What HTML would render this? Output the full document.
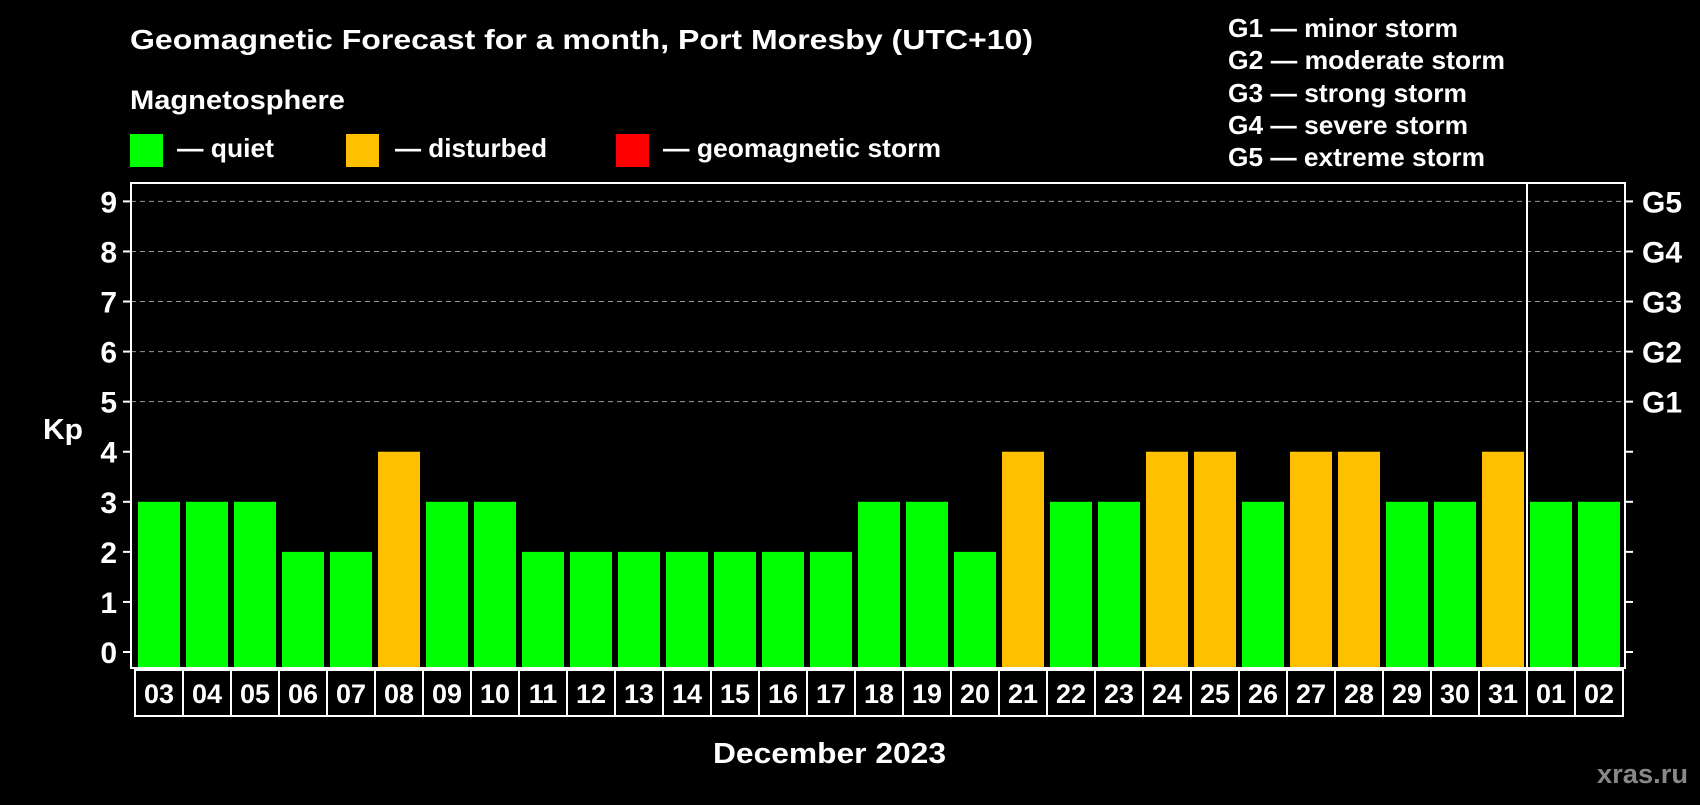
<!DOCTYPE html>
<html><head><meta charset="utf-8"><style>
body{margin:0;background:#000;width:1700px;height:800px;overflow:hidden}
svg text{font-family:"Liberation Sans",sans-serif;font-weight:bold;fill:#fff}
</style></head><body>
<svg id="c" width="1700" height="800">
<text x="130" y="49" font-size="28" textLength="903" lengthAdjust="spacingAndGlyphs">Geomagnetic Forecast for a month, Port Moresby (UTC+10)</text>
<text x="130" y="109" font-size="27" textLength="215" lengthAdjust="spacingAndGlyphs">Magnetosphere</text>
<rect x="130" y="134" width="33" height="33" fill="#00ff00"/>
<text x="177" y="157" font-size="26" textLength="97" lengthAdjust="spacingAndGlyphs">— quiet</text>
<rect x="346" y="134" width="33" height="33" fill="#ffc000"/>
<text x="395" y="157" font-size="26" textLength="152" lengthAdjust="spacingAndGlyphs">— disturbed</text>
<rect x="616" y="134" width="33" height="33" fill="#ff0000"/>
<text x="663" y="157" font-size="26" textLength="278" lengthAdjust="spacingAndGlyphs">— geomagnetic storm</text>
<g font-size="26">
<text x="1228" y="37" textLength="230" lengthAdjust="spacingAndGlyphs">G1 — minor storm</text>
<text x="1228" y="69" textLength="277" lengthAdjust="spacingAndGlyphs">G2 — moderate storm</text>
<text x="1228" y="102" textLength="239" lengthAdjust="spacingAndGlyphs">G3 — strong storm</text>
<text x="1228" y="134" textLength="240" lengthAdjust="spacingAndGlyphs">G4 — severe storm</text>
<text x="1228" y="166" textLength="257" lengthAdjust="spacingAndGlyphs">G5 — extreme storm</text>
</g>
<text x="43" y="439" font-size="29" textLength="40" lengthAdjust="spacingAndGlyphs">Kp</text>
<text x="713" y="763" font-size="29" textLength="233" lengthAdjust="spacingAndGlyphs">December 2023</text>
<text x="1597" y="783" font-size="27" textLength="91" lengthAdjust="spacingAndGlyphs" style="fill:#888">xras.ru</text>
<g id="plot"></g>
</svg>
<script>
const days=["03","04","05","06","07","08","09","10","11","12","13","14","15","16","17","18","19","20","21","22","23","24","25","26","27","28","29","30","31","01","02"];
const kp=[3,3,3,2,2,4,3,3,2,2,2,2,2,2,2,3,3,2,4,3,3,4,4,3,4,4,3,3,4,3,3];
const yTicks=[0,1,2,3,4,5,6,7,8,9];
const gLabels=["G1","G2","G3","G4","G5"];
const NS="http://www.w3.org/2000/svg";
const g=document.getElementById('plot');
const L=131,R=1625,T=183,B=668,y0=652,unit=(652-201.4)/9;
const slot=(R-L-6)/days.length;
const y=v=>y0-v*unit;
const x=i=>L+7+slot*i;
function mk(t,a){const e=document.createElementNS(NS,t);for(const k in a)e.setAttribute(k,a[k]);g.appendChild(e);return e;}
for(const v of yTicks){
 const l=mk('line',{x1:L-8,x2:L,y1:y(v),y2:y(v),stroke:'#fff','stroke-width':2});
 
 
 const r=mk('line',{x1:R,x2:R+8,y1:y(v),y2:y(v),stroke:'#fff','stroke-width':2});
 
 
 const t=mk('text',{x:L-14,y:y(v)+11,'text-anchor':'end','font-size':30});
 t.textContent=v;
 
 
 if(v>=5){
  const gl=mk('line',{x1:L,x2:R,y1:y(v),y2:y(v),stroke:'#999','stroke-width':1,'stroke-dasharray':'5,4'});
  
  
  const gt=mk('text',{x:R+17,y:y(v)+11,'font-size':30});
  gt.textContent=gLabels[v-5];
  
  
 }
}
days.forEach((d,i)=>{
 const v=kp[i];
 const c=v>=5?'#ff0000':v>=4?'#ffc000':'#00ff00';
 const b=mk('rect',{x:x(i),y:y(v),width:slot-6,height:B-y(v),fill:c});
 
 
 const bx=mk('rect',{x:L+4+slot*i,y:B+2,width:slot,height:46,fill:'none',stroke:'#fff','stroke-width':2});
 
 
 const t=mk('text',{x:L+4+slot*i+slot/2,y:B+35,'text-anchor':'middle','font-size':27});
 t.textContent=d;
 
 
});
const fr=mk('rect',{x:L,y:T,width:R-L,height:B-T,fill:'none',stroke:'#fff','stroke-width':2});


const dx=L+7+slot*29-3;
const dv=mk('line',{x1:dx,x2:dx,y1:T,y2:B+48,stroke:'#fff','stroke-width':2});


</script>
</body></html>
